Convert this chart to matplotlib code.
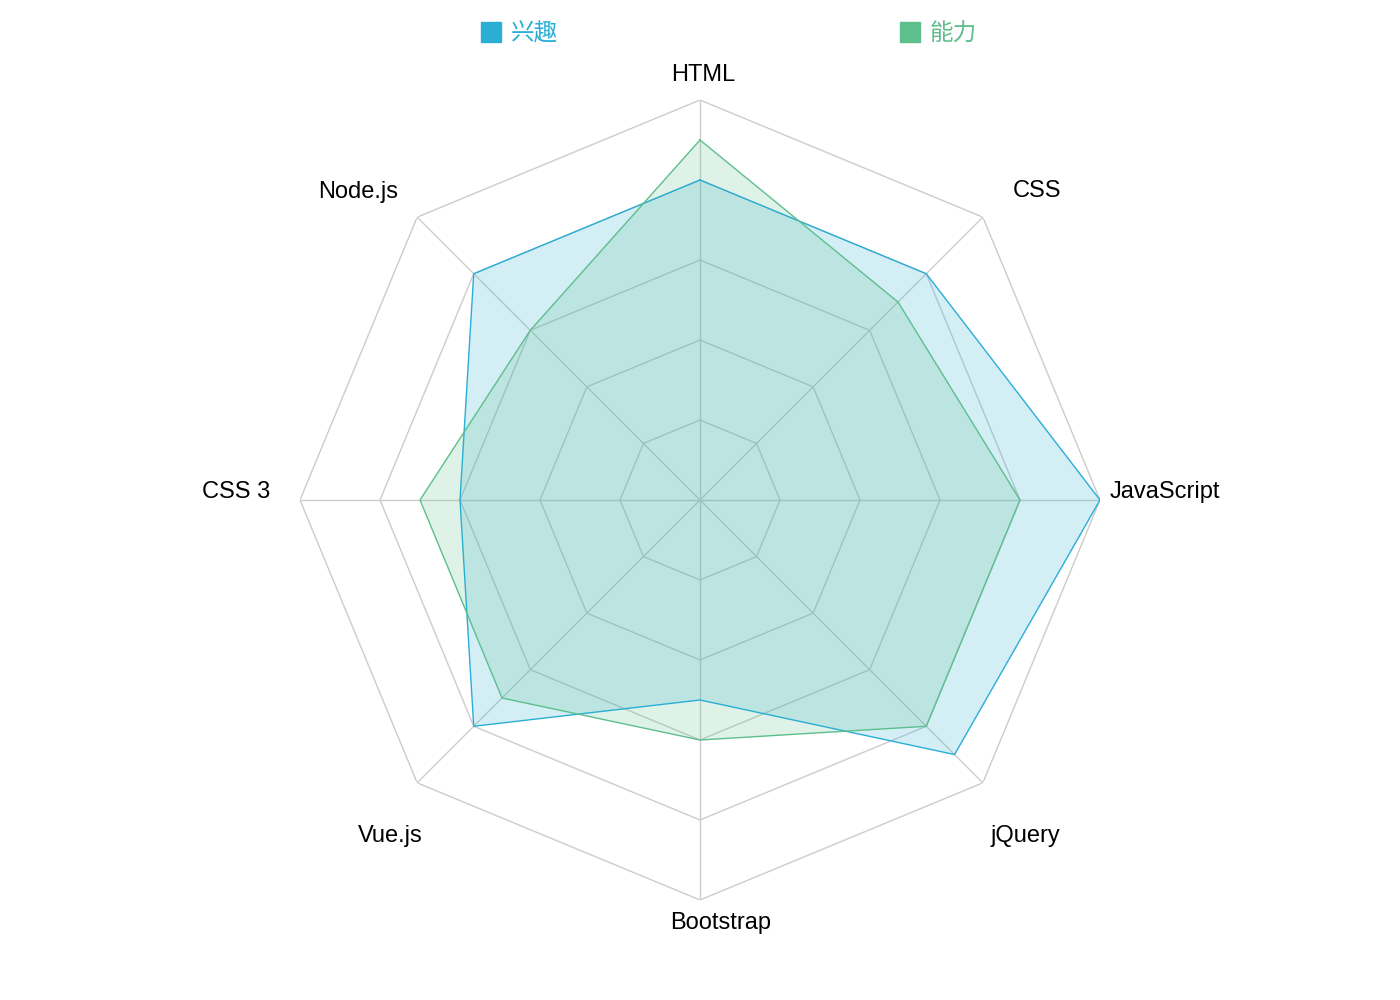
import numpy as np
import matplotlib.pyplot as plt
from matplotlib.lines import Line2D

plt.rcParams['font.family'] = ['Liberation Sans', 'Noto Sans CJK SC']

# data
skills = ['HTML', 'CSS', 'JavaScript', 'jQuery', 'Bootstrap', 'Vue.js', 'CSS 3', 'Node.js']
interest = [8, 8, 10, 9, 5, 8, 6, 8]
ability = [9, 7, 8, 8, 6, 7, 7, 6]
series_names = ['兴趣', '能力']
colors = ['#2aaed6', '#5dbf8c']
max_val = 10
rings = [2, 4, 6, 8, 10]

n = len(skills)
theta = np.linspace(0, 2 * np.pi, n, endpoint=False)
theta_c = np.append(theta, theta[0])

fig = plt.figure(figsize=(14, 10), dpi=100)
ax = fig.add_axes([300 / 1400, 100 / 1000, 800 / 1400, 0.8], projection='polar')
ax.set_theta_offset(np.pi / 2)
ax.set_theta_direction(-1)
ax.set_ylim(0, max_val)
ax.grid(False)
ax.set_xticks([])
ax.set_yticks([])
ax.spines['polar'].set_visible(False)

# polygon grid
for r in rings:
    ax.plot(theta_c, [r] * (n + 1), color='#cccccc', lw=1, zorder=1)
for t in theta:
    ax.plot([t, t], [0, max_val], color='#cccccc', lw=1, zorder=1)

# series
for vals, c in zip([interest, ability], colors):
    v = np.append(vals, vals[0])
    ax.fill(theta_c, v, color=c, alpha=0.2, lw=0, zorder=2)
    ax.plot(theta_c, v, color=c, lw=1, zorder=3)

# axis labels, offset (px) from the end of each spoke
label_offsets = [(3, 19), (54, 20), (65, 2), (43, -59), (21, -29), (-27, -59), (-64, 2), (-59, 19)]
for t, name, off in zip(theta, skills, label_offsets):
    ax.annotate(name, xy=(t, max_val), xytext=off, textcoords='offset pixels',
                ha='center', va='baseline', fontsize=17, color='#000000')

# legend
handles = [Line2D([], [], marker='s', linestyle='', markersize=14.4, color=c) for c in colors]
leg = fig.legend(handles, series_names, loc='upper left', bbox_to_anchor=(479 / 1400, 1 - 23 / 1000),
                 ncol=2, frameon=False, fontsize=17, handletextpad=0.35, borderpad=0,
                 borderaxespad=0, columnspacing=14.4, handlelength=1.0)
for txt, c in zip(leg.get_texts(), colors):
    txt.set_color(c)

fig.savefig('out.png', dpi=100)
